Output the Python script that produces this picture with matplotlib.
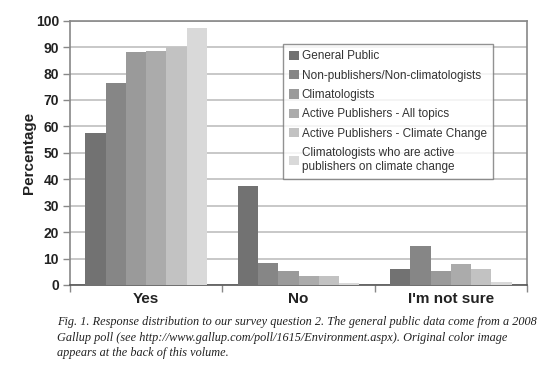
import matplotlib
matplotlib.use("Agg")
import matplotlib.pyplot as plt
import numpy as np

categories = ["Yes", "No", "I'm not sure"]
series_names = [
    "General Public",
    "Non-publishers/Non-climatologists",
    "Climatologists",
    "Active Publishers - All topics",
    "Active Publishers - Climate Change",
    "Climatologists who are active\npublishers on climate change",
]
general_public = [57.6, 37.6, 5.9]
non_publishers = [76.5, 8.2, 14.9]
climatologists = [88.3, 5.4, 5.4]
active_all = [88.5, 3.4, 7.8]
active_cc = [90.1, 3.4, 5.9]
clim_active = [97.2, 0.9, 1.0]
yticks = list(range(0, 101, 10))

series = [general_public, non_publishers, climatologists, active_all, active_cc, clim_active]
colors = ["#727272", "#868686", "#9a9a9a", "#ababab", "#c2c2c2", "#d9d9d9"]

plt.rcParams['font.family'] = ['Liberation Sans', 'DejaVu Sans']
fig = plt.figure(figsize=(5.52, 3.65), dpi=100)
ax = fig.add_axes([70/552, (365-285)/365, (527-70)/552, (285-20.7)/365])

x = np.arange(len(categories))
w = 0.1328
for j, (vals, c, name) in enumerate(zip(series, colors, series_names)):
    ax.bar(x + (j - 2.5) * w, vals, width=w, color=c, label=name, zorder=3, linewidth=0)

ax.set_xlim(-0.5, 2.5)
ax.set_ylim(0, 100)
ax.set_yticks(yticks)
ax.set_yticklabels([str(v) for v in yticks], fontsize=10, fontweight='bold', color='#222222')
ax.yaxis.grid(True, color='#c4c4c4', linewidth=1.3, zorder=0)
ax.set_axisbelow(True)
ax.set_xticks(x)
ax.set_xticklabels(categories, fontsize=11, fontweight='bold', color='#222222')
ax.tick_params(axis='x', which='major', length=0, pad=5)
ax.set_xticks([-0.5, 0.5, 1.5, 2.5], minor=True)
ax.tick_params(axis='x', which='minor', length=5, color='#888888', width=1)
ax.tick_params(axis='y', length=5, color='#888888', width=1, pad=3)
for s in ['left', 'right', 'top', 'bottom']:
    ax.spines[s].set_color('#888888')
    ax.spines[s].set_linewidth(1.2)
ax.spines['bottom'].set_color('#555555')
ax.set_ylabel("Percentage", fontsize=11, fontweight='bold', color='#222222', labelpad=0)

leg = ax.legend(loc='upper left', bbox_to_anchor=(0.466, 0.912), fontsize=8.5,
                frameon=True, fancybox=False, edgecolor='#777777',
                handlelength=0.8, handleheight=0.8, handletextpad=0.25,
                labelspacing=0.62, borderpad=0.55, borderaxespad=0)
leg.get_frame().set_linewidth(1.0)
for t in leg.get_texts():
    t.set_color('#333333')

caption = ("Fig. 1. Response distribution to our survey question 2. The general public data come from a 2008\n"
           "Gallup poll (see http://www.gallup.com/poll/1615/Environment.aspx). Original color image\n"
           "appears at the back of this volume.")
fig.text(57/552, 1 - 316/365, caption, fontsize=8.8, style='italic',
         family=['Liberation Serif', 'DejaVu Serif'], va='top', ha='left',
         linespacing=1.4, color='#222222')

fig.savefig("out.png", dpi=100)
